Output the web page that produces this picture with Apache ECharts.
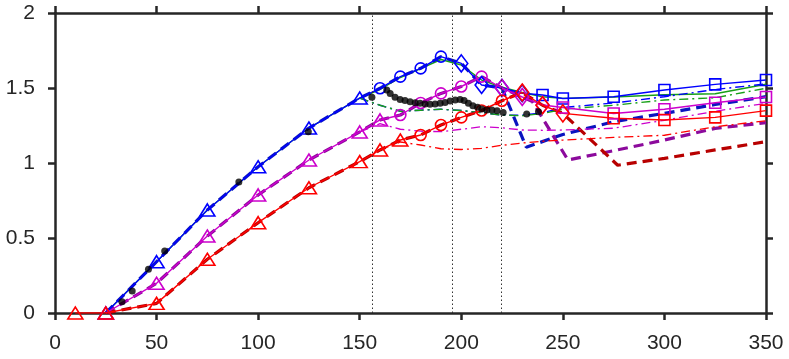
<!DOCTYPE html>
<html>
<head>
<meta charset="utf-8">
<script src="https://cdn.jsdelivr.net/npm/echarts@6/dist/echarts.min.js"></script>
<style>
html,body{margin:0;padding:0;background:#fff;}
#c{width:789px;height:359px;}
</style>
</head>
<body>
<div id="c"></div>
<script>
// ---- data ----
const blueX = [25,50,75,100,125,150,160,170,180,190,200,210,220,230,240,250,275,300,325,350];
const blueY = [0,0.342,0.687,0.975,1.233,1.433,1.498,1.576,1.631,1.709,1.664,1.52,1.50,1.465,1.453,1.43,1.442,1.487,1.524,1.553];

const magentaX = [25,50,75,100,125,150,160,170,180,190,200,210,220,230,240,250,275,300,325,350];
const magentaY = [0,0.198,0.513,0.787,1.02,1.207,1.287,1.32,1.40,1.464,1.51,1.576,1.50,1.44,1.387,1.37,1.33,1.358,1.402,1.44];

const redX = [10,25,50,75,100,125,150,160,170,180,190,200,210,220,230,240,250,275,300,325,350];
const redY = [0,0,0.064,0.358,0.602,0.835,1.009,1.087,1.153,1.187,1.253,1.304,1.35,1.415,1.47,1.385,1.331,1.298,1.287,1.304,1.349];

const greenX = [25,50,75,100,125,150,160,170,180,190,200,210,220,230,240,250,275,300,325,350];
const greenY = [0,0.342,0.687,0.975,1.233,1.433,1.49,1.57,1.63,1.69,1.653,1.553,1.505,1.47,1.442,1.431,1.44,1.455,1.462,1.525];

const greenDDX = [150,160,170,180,190,200,210,220,230,240,250,275,300,325,350];
const greenDDY = [1.433,1.385,1.345,1.352,1.358,1.35,1.335,1.32,1.315,1.33,1.358,1.385,1.42,1.435,1.498];

const blueDDX = [150,160,170,180,190,200,210,220,230,240,250,275,300,325,350];
const blueDDY = [1.433,1.385,1.345,1.352,1.358,1.35,1.335,1.32,1.318,1.335,1.37,1.40,1.442,1.49,1.527];

const magentaDDX = [150,160,170,180,190,200,210,220,230,240,250,275,300,325,350];
const magentaDDY = [1.207,1.262,1.225,1.212,1.209,1.225,1.242,1.235,1.22,1.218,1.22,1.232,1.285,1.345,1.398];

const redDDX = [160,170,180,190,200,210,220,230,240,250,275,300,325,350];
const redDDY = [1.087,1.14,1.12,1.095,1.09,1.098,1.118,1.133,1.145,1.153,1.171,1.185,1.242,1.282];

const blueDashX = [25,50,75,100,125,150,160,170,180,190,200,210,220,232,250,275,300,325,350];
const blueDashY = [0,0.342,0.687,0.975,1.233,1.433,1.498,1.576,1.631,1.709,1.664,1.52,1.50,1.105,1.19,1.275,1.331,1.39,1.442];

const purpleDashX = [25,50,75,100,125,150,160,170,180,190,200,210,220,230,235,252.5,275,300,325,350];
const purpleDashY = [0,0.198,0.513,0.787,1.02,1.207,1.287,1.32,1.40,1.464,1.51,1.576,1.50,1.44,1.41,1.02,1.082,1.153,1.231,1.269];

const darkRedDashX = [25,50,75,100,125,150,160,170,180,190,200,210,220,230,240,250,277,300,325,350];
const darkRedDashY = [0,0.064,0.358,0.602,0.835,1.009,1.087,1.153,1.187,1.253,1.304,1.35,1.415,1.47,1.385,1.331,0.985,1.031,1.087,1.142];

const dotsX = [33,38,46,54,90.5,124.7,156,163.3,165,167.4,169.9,172.3,174.8,177.3,179.7,182.2,184.6,187.1,189.6,192,194.5,197,199.4,201.4,203.5,205.7,208,210.1,212.6,215.1,217.6,220.6,232.2,238];
const dotsY = [0.075,0.147,0.291,0.413,0.873,1.209,1.438,1.487,1.464,1.438,1.424,1.416,1.409,1.402,1.398,1.393,1.391,1.393,1.398,1.404,1.413,1.42,1.424,1.416,1.398,1.382,1.371,1.36,1.353,1.353,1.349,1.336,1.327,1.342];

const refLines = [156, 195.5, 219.5];

const xMin = 0, xMax = 350, xStep = 50;
const yMin = 0, yMax = 2, yStep = 0.5;

// ---- helpers ----
const pts = (xs, ys) => xs.map((x, i) => [x, ys[i]]);

// marker regime boundaries (triangle | circle | diamond | square)
function markerFn(b1, b2, b3) {
  return function (v) {
    const x = v[0];
    if (x <= b1) return 'triangle';
    if (x <= b2) return 'circle';
    if (x <= b3) return 'diamond';
    return 'rect';
  };
}
function sizeFn(b1, b2, b3) {
  return function (v) {
    const x = v[0];
    if (x <= b1) return [15, 12];
    if (x <= b2) return 11;
    if (x <= b3) return [13, 17];
    return 11;
  };
}

const INK = '#262626';
const C = {
  blue: '#0000ff', green: '#17a017', magenta: '#cc00cc', red: '#ff0000',
  blueDash: '#0a14c0', purpleDash: '#8c0a9c', darkRedDash: '#b80000'
};
const DD = [9, 4, 2, 4];

function markedLine(name, xs, ys, color, b) {
  return {
    name, type: 'line', data: pts(xs, ys), z: 3,
    symbol: markerFn(b[0], b[1], b[2]),
    symbolSize: sizeFn(b[0], b[1], b[2]),
    showSymbol: true,
    lineStyle: { color, width: 1.4 },
    itemStyle: { color: 'rgba(0,0,0,0)', borderColor: color, borderWidth: 1.6 },
    emphasis: { disabled: true }, silent: true
  };
}
function plainLine(name, xs, ys, color, width, type, z) {
  return {
    name, type: 'line', data: pts(xs, ys), z: z || 2,
    symbol: 'none', showSymbol: false,
    lineStyle: { color, width, type },
    emphasis: { disabled: true }, silent: true
  };
}

const series = [
  markedLine('blue', blueX, blueY, C.blue, [150, 190, 230]),
  plainLine('green', greenX, greenY, C.green, 1.4, 'solid', 2),
  plainLine('blueDash', blueDashX, blueDashY, C.blueDash, 3.2, [10, 6], 2),
  markedLine('magenta', magentaX, magentaY, C.magenta, [160, 210, 240]),
  plainLine('purpleDash', purpleDashX, purpleDashY, C.purpleDash, 3.2, [10, 6], 2),
  markedLine('red', redX, redY, C.red, [170, 220, 250]),
  plainLine('darkRedDash', darkRedDashX, darkRedDashY, C.darkRedDash, 3.2, [10, 6], 2),
  plainLine('blueDD', blueDDX, blueDDY, C.blue, 1.4, DD, 2),
  plainLine('greenDD', greenDDX, greenDDY, C.green, 1.4, DD, 2),
  plainLine('magentaDD', magentaDDX, magentaDDY, C.magenta, 1.3, DD, 2),
  plainLine('redDD', redDDX, redDDY, C.red, 1.3, DD, 2),
  {
    name: 'dots', type: 'scatter', data: pts(dotsX, dotsY), z: 4,
    symbol: 'circle', symbolSize: 7,
    itemStyle: { color: '#000' }, silent: true,
    markLine: {
      silent: true, symbol: 'none', label: { show: false },
      lineStyle: { color: '#333', width: 1, type: [1.5, 2.5] },
      data: refLines.map(v => ({ xAxis: v }))
    }
  }
];

const axisCommon = {
  axisLine: { show: true, onZero: false, lineStyle: { color: INK, width: 2.5 } },
  axisTick: { show: true, inside: false, length: 7, lineStyle: { color: INK, width: 2.5 } },
  splitLine: { show: false }
};
const labelStyle = { fontSize: 21, color: INK, fontFamily: 'Liberation Sans, Arial, sans-serif' };

const option = {
  animation: false,
  backgroundColor: '#fff',
  grid: { left: 55, right: 23, top: 13, bottom: 46, containLabel: false },
  xAxis: [
    Object.assign({ type: 'value', min: xMin, max: xMax, interval: xStep, position: 'bottom',
      axisLabel: Object.assign({ margin: 20 }, labelStyle) }, axisCommon),
    Object.assign({ type: 'value', min: xMin, max: xMax, interval: xStep, position: 'top',
      axisLabel: { show: false } }, axisCommon)
  ],
  yAxis: [
    Object.assign({ type: 'value', min: yMin, max: yMax, interval: yStep, position: 'left',
      axisLabel: Object.assign({ margin: 20 }, labelStyle) }, axisCommon),
    Object.assign({ type: 'value', min: yMin, max: yMax, interval: yStep, position: 'right',
      axisLabel: { show: false } }, axisCommon)
  ],
  series
};

const chart = echarts.init(document.getElementById('c'), null, { renderer: 'canvas' });
chart.setOption(option);
</script>
</body>
</html>
